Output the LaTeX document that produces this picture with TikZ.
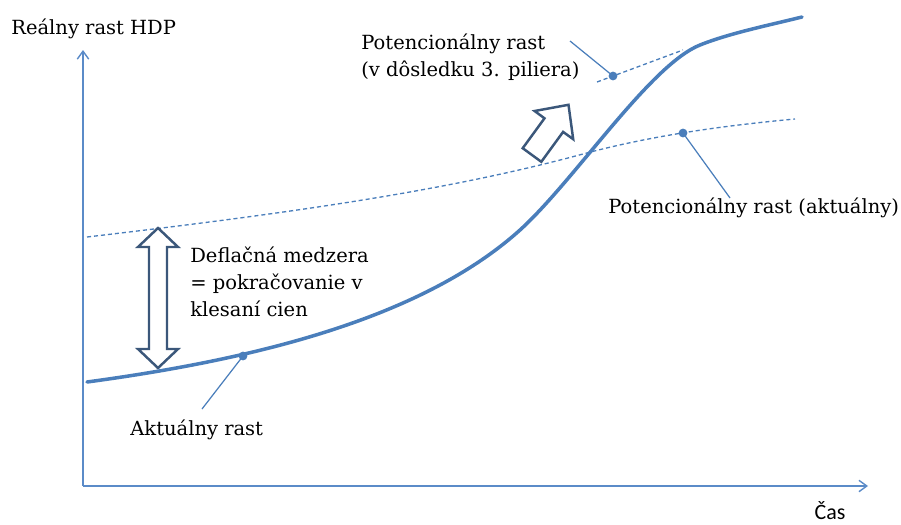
\documentclass[tikz,border=0pt]{standalone}
\usepackage{fontspec}
\setmainfont{DejaVu Serif}
\newfontfamily\casfont{Carlito}
\usetikzlibrary{arrows.meta}

\definecolor{curveblue}{RGB}{74,126,187}
\definecolor{axisblue}{RGB}{91,139,200}
\definecolor{arrowslate}{RGB}{59,87,122}

\tikzset{
  axis/.style={draw=axisblue, line width=0.8pt, -{Straight Barb[length=4.5pt,width=6.5pt]}},
  growth/.style={draw=curveblue, line width=2pt, line cap=round},
  potential/.style={draw=curveblue, line width=0.75pt, dash pattern=on 2.3pt off 1.7pt},
  leader/.style={draw=curveblue, line width=0.7pt},
  dot/.style={circle, fill=curveblue, inner sep=0pt, minimum size=5pt},
  txt/.style={inner sep=0pt, font=\fontsize{11.1}{15.4}\selectfont, align=left, anchor=west},
  hollow/.style={draw=arrowslate, fill=white, line width=1.4pt, line join=miter},
}

\begin{document}
\begin{tikzpicture}[x=0.02cm, y=-0.02cm]
  \useasboundingbox (0,0) rectangle (901,524);

  % Axes
  \coordinate (O) at (83,486);
  \coordinate (ytip) at (83,50);
  \coordinate (xtip) at (868,486);
  \draw[axis] (O) -- (ytip);
  \draw[axis] (O) -- (xtip);
  \node[txt] (ylab) at (11,29) {Reálny rast HDP};
  \node[inner sep=0pt, font=\casfont\fontsize{12.5}{15}\selectfont] (xlab) at (830,511) {Čas};

  % Potential growth lines
  \draw[potential] (87,237) .. controls (300,212) and (450,190) .. (583,154)
    .. controls (650,136) and (720,126) .. (795,119);
  \coordinate (pillarA) at (597,82);
  \coordinate (pillarB) at (683,50);
  \draw[potential] (pillarA) -- (pillarB);

  % Actual growth
  \draw[growth] (87,382) .. controls (250,360) and (420,320) .. (520,230)
    .. controls (575,180) and (650,65) .. (700,45)
    .. controls (730,33) and (770,25) .. (802,17);

  % Hollow arrows
  \draw[hollow] (158,228) -- (178,247) -- (167,247) -- (167,349) -- (178,349) -- (158,368)
    -- (138,349) -- (149,349) -- (149,247) -- (138,247) -- cycle;
  \draw[hollow] (522.7,148.2) -- (544.5,118.3) -- (534.6,111.0) -- (568.5,104.8)
    -- (573.2,139.2) -- (563.1,131.9) -- (541.3,161.8) -- cycle;

  % Markers and leaders
  \node[dot] (dA) at (243,356) {};
  \node[dot] (dP) at (683,133) {};
  \node[dot] (dN) at (613,76) {};
  \coordinate (lA) at (202,409);
  \coordinate (lP) at (730,198);
  \coordinate (lN) at (570,41);
  \draw[leader] (dA.center) -- (lA);
  \draw[leader] (dP.center) -- (lP);
  \draw[leader] (dN.center) -- (lN);

  % Labels
  \node[txt] (ptop) at (361,57) {Potencionálny rast\\(v dôsledku 3. piliera)};
  \node[txt] (pnow) at (608,208) {Potencionálny rast (aktuálny)};
  \node[txt] (gap) at (190,282) {Deflačná medzera\\= pokračovanie v\\klesaní cien};
  \node[txt] (act) at (130,430) {Aktuálny rast};
\end{tikzpicture}
\end{document}
